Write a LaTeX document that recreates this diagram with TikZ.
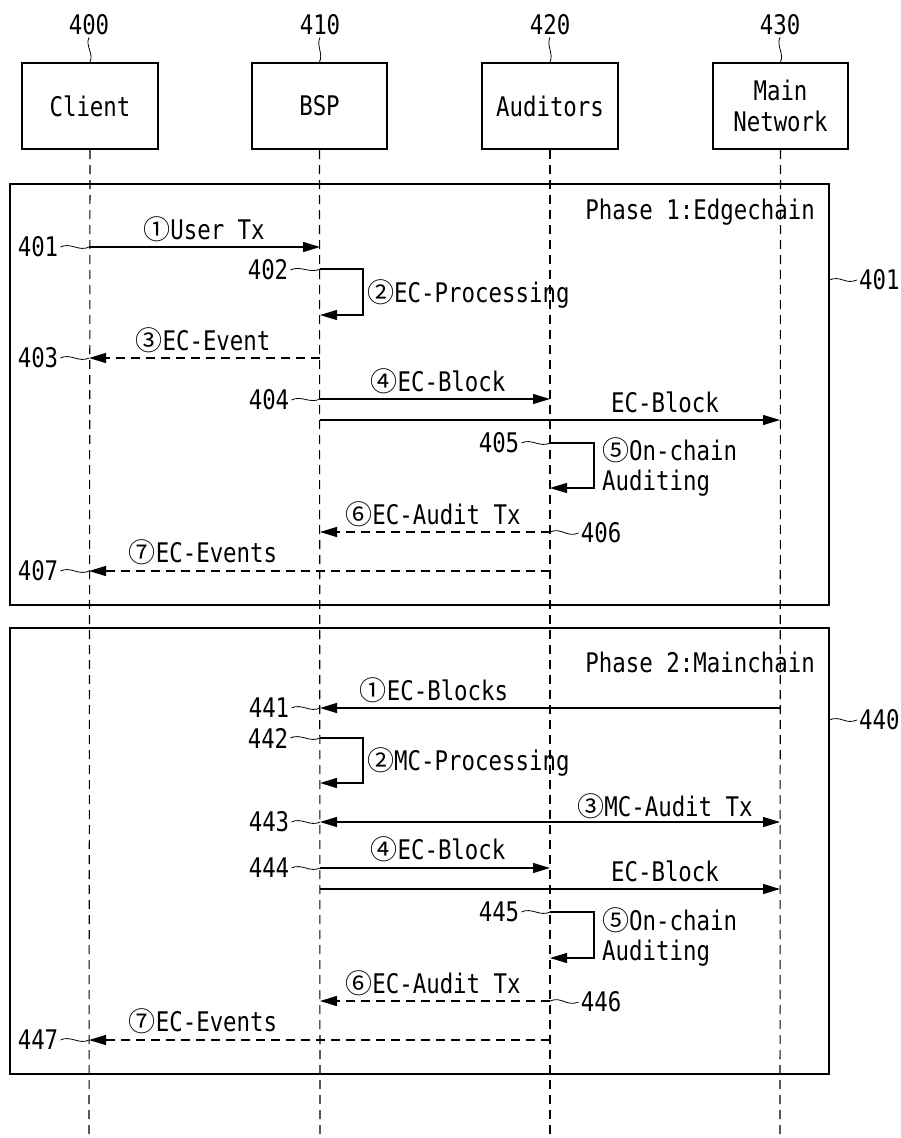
\documentclass[tikz,border=0pt]{standalone}
\usepackage{fontspec}
\setmainfont[FakeStretch=0.83]{DejaVu Sans Mono}
\newfontfamily\circfont[Scale=1.0]{Noto Sans CJK JP}
\usetikzlibrary{arrows.meta}
\newcommand{\cnum}[1]{{\circfont #1}}
\begin{document}
\begin{tikzpicture}[x=1pt,y=-1pt,
  font=\fontsize{27}{31}\selectfont,
  actor/.style={draw,line width=2pt,minimum height=86pt,inner sep=0pt,align=center},
  lifeline/.style={line width=1.1pt,dash pattern=on 9pt off 6pt},
  frame/.style={draw,line width=2pt,inner sep=0pt},
  msg/.style={line width=1.3pt,-{Triangle[length=17pt,width=10pt]}},
  retmsg/.style={msg,dash pattern=on 9pt off 6pt},
  both/.style={line width=1.3pt,{Triangle[length=17pt,width=10pt]}-{Triangle[length=17pt,width=10pt]}},
  lead/.style={line width=0.8pt},
  txt/.style={inner sep=2pt},
  lbl/.style={inner sep=0pt,anchor=base},
  lblw/.style={inner sep=0pt,anchor=base west}
]
\useasboundingbox (0,0) rectangle (900,1138);

% actors
\node[actor,minimum width=136pt] (client) at (90,106) {Client};
\node[actor,minimum width=135pt] (bsp) at (319.5,106) {BSP};
\node[actor,minimum width=136pt] (aud) at (550,106) {Auditors};
\node[actor,minimum width=135pt] (main) at (780.5,106) {Main\\[0pt]Network};

\node[txt] (n400) at (89,25) {400};
\node[txt] (n410) at (320,25) {410};
\node[txt] (n420) at (550,25) {420};
\node[txt] (n430) at (780,25) {430};
\foreach \n/\a in {n400/client,n410/bsp,n420/aud,n430/main}
  \draw[lead] (\n.south) .. controls +(-4,8) and +(4,-8) .. (\a.north);

% lifeline ends
\coordinate (cEnd) at (89,1138);
\coordinate (bEnd) at (320,1138);
\coordinate (aEnd) at (550,1138);
\coordinate (mEnd) at (780,1138);

% frames
\node[frame,minimum width=819pt,minimum height=421pt] (ph1) at (419.5,394.5) {};
\node[frame,minimum width=819pt,minimum height=446pt] (ph2) at (419.5,851) {};

\draw[lifeline] (client.south) -- (cEnd);
\draw[lifeline] (bsp.south) -- (bEnd);
\draw[lifeline] (aud.south) -- (aEnd);
\draw[lifeline] (main.south) -- (mEnd);

\node[inner sep=0pt,anchor=base east] (t1) at (815,219) {Phase 1:Edgechain};
\node[inner sep=0pt,anchor=base east] (t2) at (815,672) {Phase 2:Mainchain};

\node[txt,anchor=west] (r401) at (857,280) {401};
\coordinate (f401) at (829,280);
\draw[lead] (f401) .. controls +(12,-5) and +(-12,5) .. (r401.west);
\node[txt,anchor=west] (r440) at (857,720) {440};
\coordinate (f440) at (829,720);
\draw[lead] (f440) .. controls +(12,-5) and +(-12,5) .. (r440.west);

% ---------- Phase 1 ----------
\coordinate (c1) at (89,247);  \coordinate (b1) at (320,247);
\draw[msg] (c1) -- (b1);
\node[lbl] (m1) at (204,239) {\cnum{①}User Tx};
\node[txt] (n401) at (38,247) {401};
\draw[lead] (n401.east) .. controls +(10,-5) and +(-10,5) .. (c1);

\coordinate (b2a) at (320,269); \coordinate (b2b) at (320,315);
\draw[msg] (b2a) -- ++(43,0) |- (b2b);
\node[lblw] (m2) at (367,302) {\cnum{②}EC-Processing};
\node[txt] (n402) at (268,270) {402};
\draw[lead] (n402.east) .. controls +(10,-5) and +(-10,5) .. (b2a);

\coordinate (b3) at (320,358); \coordinate (c3) at (89,358);
\draw[retmsg] (b3) -- (c3);
\node[lbl] (m3) at (203,350) {\cnum{③}EC-Event};
\node[txt] (n403) at (38,358) {403};
\draw[lead] (n403.east) .. controls +(10,-5) and +(-10,5) .. (c3);

\coordinate (b4) at (320,399); \coordinate (a4) at (550,399);
\draw[msg] (b4) -- (a4);
\node[lbl] (m4) at (438,391) {\cnum{④}EC-Block};
\node[txt] (n404) at (269,400) {404};
\draw[lead] (n404.east) .. controls +(10,-5) and +(-10,5) .. (b4);

\coordinate (b4m) at (320,420); \coordinate (m4m) at (780,420);
\draw[msg] (b4m) -- (m4m);
\node[lbl] (m4b) at (665,412) {EC-Block};

\coordinate (a5a) at (550,443); \coordinate (a5b) at (550,488);
\draw[msg] (a5a) -- ++(44,0) |- (a5b);
\node[lblw] (m5) at (602,460) {\cnum{⑤}On-chain};
\node[lblw] (m5b) at (602,490) {Auditing};
\node[txt] (n405) at (499,443) {405};
\draw[lead] (n405.east) .. controls +(10,-5) and +(-10,5) .. (a5a);

\coordinate (a6) at (550,532); \coordinate (b6) at (320,532);
\draw[retmsg] (a6) -- (b6);
\node[lbl] (m6) at (433,524) {\cnum{⑥}EC-Audit Tx};
\node[txt] (n406) at (601,533) {406};
\draw[lead] (a6) .. controls +(12,-5) and +(-12,5) .. (n406.west);

\coordinate (a7) at (550,571); \coordinate (c7) at (89,571);
\draw[retmsg] (a7) -- (c7);
\node[lbl] (m7) at (203,562) {\cnum{⑦}EC-Events};
\node[txt] (n407) at (38,571) {407};
\draw[lead] (n407.east) .. controls +(10,-5) and +(-10,5) .. (c7);

% ---------- Phase 2 ----------
\coordinate (m21) at (780,708); \coordinate (b21) at (320,708);
\draw[msg] (m21) -- (b21);
\node[lbl] (p1) at (434,700) {\cnum{①}EC-Blocks};
\node[txt] (n441) at (269,708) {441};
\draw[lead] (n441.east) .. controls +(10,-5) and +(-10,5) .. (b21);

\coordinate (b22a) at (320,738); \coordinate (b22b) at (320,783);
\draw[msg] (b22a) -- ++(43,0) |- (b22b);
\node[lblw] (p2) at (367,770) {\cnum{②}MC-Processing};
\node[txt] (n442) at (268,738) {442};
\draw[lead] (n442.east) .. controls +(10,-5) and +(-10,5) .. (b22a);

\coordinate (b23) at (320,822); \coordinate (m23) at (780,822);
\draw[both] (b23) -- (m23);
\node[lbl] (p3) at (665,816) {\cnum{③}MC-Audit Tx};
\node[txt] (n443) at (269,822) {443};
\draw[lead] (n443.east) .. controls +(10,-5) and +(-10,5) .. (b23);

\coordinate (b24) at (320,868); \coordinate (a24) at (550,868);
\draw[msg] (b24) -- (a24);
\node[lbl] (p4) at (438,859) {\cnum{④}EC-Block};
\node[txt] (n444) at (269,868) {444};
\draw[lead] (n444.east) .. controls +(10,-5) and +(-10,5) .. (b24);

\coordinate (b24m) at (320,889); \coordinate (m24m) at (780,889);
\draw[msg] (b24m) -- (m24m);
\node[lbl] (p4b) at (665,881) {EC-Block};

\coordinate (a25a) at (550,912); \coordinate (a25b) at (550,958);
\draw[msg] (a25a) -- ++(44,0) |- (a25b);
\node[lblw] (p5) at (602,930) {\cnum{⑤}On-chain};
\node[lblw] (p5b) at (602,960) {Auditing};
\node[txt] (n445) at (499,912) {445};
\draw[lead] (n445.east) .. controls +(10,-5) and +(-10,5) .. (a25a);

\coordinate (a26) at (550,1001); \coordinate (b26) at (320,1001);
\draw[retmsg] (a26) -- (b26);
\node[lbl] (p6) at (433,993) {\cnum{⑥}EC-Audit Tx};
\node[txt] (n446) at (601,1002) {446};
\draw[lead] (a26) .. controls +(12,-5) and +(-12,5) .. (n446.west);

\coordinate (a27) at (550,1040); \coordinate (c27) at (89,1040);
\draw[retmsg] (a27) -- (c27);
\node[lbl] (p7) at (203,1031) {\cnum{⑦}EC-Events};
\node[txt] (n447) at (38,1040) {447};
\draw[lead] (n447.east) .. controls +(10,-5) and +(-10,5) .. (c27);
\end{tikzpicture}
\end{document}
